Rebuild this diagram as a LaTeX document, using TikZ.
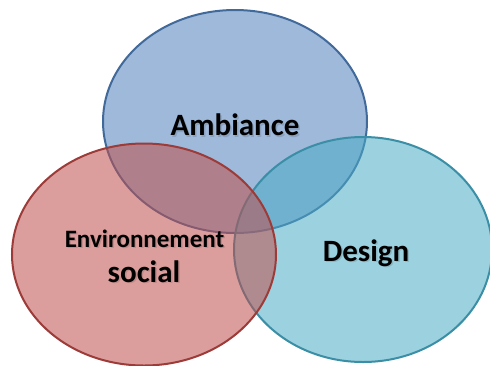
\documentclass[tikz,border=0pt]{standalone}
\usepackage{fontspec}
\setmainfont{Carlito}
\definecolor{cblue}{HTML}{4F81BD}
\definecolor{cred}{HTML}{C0504D}
\definecolor{ccyan}{HTML}{4BACC6}
\definecolor{eblue}{HTML}{41699A}
\definecolor{ered}{HTML}{9C3B38}
\definecolor{ecyan}{HTML}{3A8EA6}
\begin{document}
\begin{tikzpicture}[x=1pt,y=-1pt,
  circ/.style={fill opacity=0.55, line width=2pt},
  lbl/.style={font=\bfseries\fontsize{31}{36}\selectfont, text=black, inner sep=0pt},
  lblsmall/.style={font=\bfseries\fontsize{25}{29}\selectfont, text=black, inner sep=0pt},
  shadow/.style={text=black, text opacity=0.12}]
\useasboundingbox (0,0) rectangle (490,365);
\clip (0,0) rectangle (490,365);
\fill[white] (0,0) rectangle (490,365);
\draw[circ, fill=cblue, draw=eblue] (235,121.5) ellipse [x radius=132, y radius=111.5];
\draw[circ, fill=ccyan, draw=ecyan] (363,249.5) ellipse [x radius=129, y radius=112.5];
\draw[circ, fill=cred, draw=ered] (144,254.5) ellipse [x radius=132, y radius=111];
% shadows
\node[lbl, shadow] at (236.5,126.5) {Ambiance};
\node[lbl, shadow] at (367.5,254.5) {Design};
\node[lblsmall, shadow] at (146,240) {Environnement};
\node[lbl, shadow] at (145.5,273) {social};
% labels
\node[lbl] (amb) at (235,125) {Ambiance};
\node[lbl] (des) at (366,253) {Design};
\node[lblsmall] (env) at (144.5,238.5) {Environnement};
\node[lbl] (soc) at (144,271.5) {social};
\end{tikzpicture}
\end{document}
